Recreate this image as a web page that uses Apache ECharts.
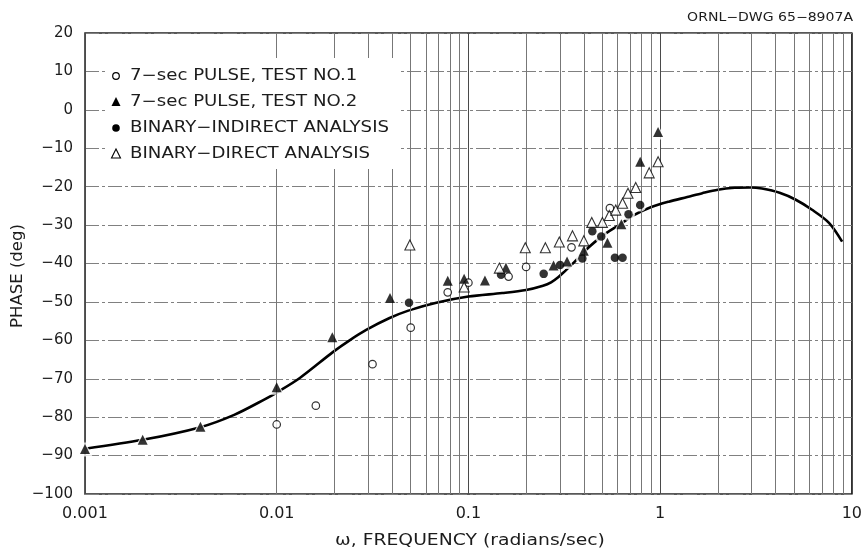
<!DOCTYPE html>
<html>
<head>
<meta charset="utf-8">
<script src="https://cdn.jsdelivr.net/npm/echarts@6/dist/echarts.min.js"></script>
<style>
  html, body { margin: 0; padding: 0; background: #fff; }
  #chart { width: 865px; height: 551px; }
</style>
</head>
<body>
<div id="chart"></div>
<script>
// Phase response: computed curve and four sets of measured points.
const freqTicks = [0.001, 0.01, 0.1, 1, 10];
const freqTickLabels = ['0.001', '0.01', '0.1', '1', '10'];
const phaseMin = -100, phaseMax = 20, phaseStep = 10;

// intermediate log-grid frequencies (2..9 per decade)
const minorGridFreqs = [
  0.002, 0.003, 0.004, 0.005, 0.006, 0.007, 0.008, 0.009,
  0.02, 0.03, 0.04, 0.05, 0.06, 0.07, 0.08, 0.09,
  0.2, 0.3, 0.4, 0.5, 0.6, 0.7, 0.8, 0.9,
  2, 3, 4, 5, 6, 7, 8, 9
];

// computed phase curve
const curveFreq  = [0.001, 0.002, 0.004, 0.006, 0.0087, 0.01, 0.0132, 0.0197, 0.024, 0.0293, 0.0388, 0.049, 0.068, 0.1, 0.15, 0.2, 0.245, 0.27, 0.295, 0.32, 0.364, 0.407, 0.5, 0.61, 0.73, 0.9, 1.11, 1.386, 1.66, 2.0, 2.45, 2.96, 3.4, 4.2, 5.1, 6.2, 7.6, 8.9];
const curvePhase = [-88.2, -85.9, -82.6, -79.4, -75.3, -73.6, -69.8, -63.0, -60.0, -57.3, -54.2, -52.2, -50.2, -48.6, -47.7, -46.9, -45.8, -44.9, -43.5, -41.9, -39.2, -36.6, -32.8, -30.0, -27.4, -25.3, -23.9, -22.7, -21.7, -20.8, -20.3, -20.2, -20.5, -21.6, -23.4, -26.0, -29.4, -34.3];

// 7-sec pulse, test no. 1
const test1Freq  = [0.01, 0.016, 0.0316, 0.05, 0.078, 0.1, 0.162, 0.2, 0.345, 0.547];
const test1Phase = [-81.9, -77.0, -66.2, -56.7, -47.5, -45.0, -43.4, -40.9, -35.8, -25.6];

// 7-sec pulse, test no. 2
const test2Freq  = [0.001, 0.002, 0.004, 0.01, 0.0195, 0.039, 0.078, 0.095, 0.122, 0.157, 0.278, 0.327, 0.40, 0.531, 0.628, 0.787, 0.976];
const test2Phase = [-88.3, -85.9, -82.5, -72.2, -59.2, -49.0, -44.5, -44.0, -44.4, -41.1, -40.5, -39.5, -36.7, -34.6, -29.8, -13.5, -5.8];

// binary-indirect analysis
const indirectFreq  = [0.049, 0.148, 0.247, 0.301, 0.393, 0.443, 0.493, 0.581, 0.637, 0.684, 0.787];
const indirectPhase = [-50.2, -42.9, -42.7, -40.4, -38.7, -31.6, -33.0, -38.5, -38.5, -27.2, -24.8];

// binary-direct analysis
const directFreq  = [0.0495, 0.095, 0.145, 0.198, 0.252, 0.298, 0.349, 0.40, 0.44, 0.50, 0.543, 0.587, 0.637, 0.68, 0.746, 0.877, 0.976];
const directPhase = [-35.2, -46.1, -41.2, -35.9, -35.9, -34.4, -32.8, -34.1, -29.3, -29.3, -27.5, -26.1, -24.3, -21.7, -20.2, -16.4, -13.5];

// legend entries, in drawing order
const legendLabels = [
  '7\u2212sec PULSE, TEST NO.1',
  '7\u2212sec PULSE, TEST NO.2',
  'BINARY\u2212INDIRECT ANALYSIS',
  'BINARY\u2212DIRECT ANALYSIS'
];

const zip = (xs, ys) => xs.map((x, i) => [x, ys[i]]);
const minus = v => (v < 0 ? '\u2212' + Math.abs(v) : String(v));

const FONT = 'DejaVu Sans';
const INK = '#000';
const TEXT = '#1c1c1c';

// lettering is wide and open, so text is stretched horizontally
function label(text, x, y, size, stretch, align, extra) {
  return Object.assign({
    type: 'text', x: x, y: y, scaleX: stretch, z: 20, silent: true,
    style: {
      text: text, font: size + 'px "' + FONT + '"', fill: TEXT,
      textAlign: align || 'left', textVerticalAlign: 'middle'
    }
  }, extra || {});
}

function tri(cx, cy, s, filled) {
  const h = s * 0.9;
  return {
    type: 'polygon', z: 21, silent: true,
    shape: { points: [[cx, cy - h / 2 - 1], [cx - s / 2, cy + h / 2], [cx + s / 2, cy + h / 2]] },
    style: filled ? { fill: INK } : { fill: '#fff', stroke: INK, lineWidth: 1.1 }
  };
}
function dot(cx, cy, r, filled) {
  return {
    type: 'circle', z: 21, silent: true,
    shape: { cx: cx, cy: cy, r: r },
    style: filled ? { fill: INK } : { fill: '#fff', stroke: INK, lineWidth: 1.2 }
  };
}

const legendRows = [76, 102, 128, 154];
const legendX = 116, legendTextX = 130;

const chart = echarts.init(document.getElementById('chart'), null, { renderer: 'canvas' });

chart.setOption({
  backgroundColor: '#fff',
  animation: false,
  textStyle: { fontFamily: FONT, color: TEXT },
  grid: {
    left: 85, right: 12, top: 33, bottom: 57,
    show: true, borderColor: '#222', borderWidth: 1.5, backgroundColor: 'transparent'
  },
  graphic: [
    // legend panel
    { type: 'rect', z: 19, silent: true, shape: { x: 105, y: 58, width: 293, height: 111 }, style: { fill: '#fff' } },
    dot(legendX, legendRows[0], 3.3, false),
    tri(legendX, legendRows[1], 9, true),
    dot(legendX, legendRows[2], 3.8, true),
    tri(legendX, legendRows[3], 9, false),
    label(legendLabels[0], legendTextX, legendRows[0], 15, 1.21),
    label(legendLabels[1], legendTextX, legendRows[1], 15, 1.21),
    label(legendLabels[2], legendTextX, legendRows[2], 15, 1.21),
    label(legendLabels[3], legendTextX, legendRows[3], 15, 1.21),
    // drawing number
    label('ORNL\u2212DWG 65\u22128907A', 853, 18, 12, 1.17, 'right'),
    // axis titles
    label('\u03c9, FREQUENCY (radians/sec)', 470, 541, 15, 1.25, 'center'),
    label('PHASE (deg)', 18, 276, 15, 1.1, 'center', { rotation: Math.PI / 2 })
  ],
  xAxis: {
    type: 'log',
    logBase: 10,
    min: freqTicks[0],
    max: freqTicks[freqTicks.length - 1],
    axisLine: { show: false },
    axisTick: { show: false },
    axisLabel: {
      fontFamily: FONT, fontSize: 16, color: TEXT, margin: 12,
      formatter: v => {
        const i = freqTicks.findIndex(t => Math.abs(Math.log10(t) - Math.log10(v)) < 1e-6);
        return i >= 0 ? freqTickLabels[i] : '';
      }
    },
    splitLine: { show: true, lineStyle: { color: '#4a4a4a', width: 1 } }
  },
  yAxis: {
    type: 'value',
    min: phaseMin, max: phaseMax, interval: phaseStep,
    axisLine: { show: false },
    axisTick: { show: false },
    axisLabel: { fontFamily: FONT, fontSize: 15, color: TEXT, margin: 12, formatter: minus },
    splitLine: { show: true, lineStyle: { color: '#808080', width: 1, type: [14, 3, 3, 3] } }
  },
  series: [
    {
      // intermediate vertical grid lines placed through the log scale
      type: 'line',
      data: [],
      silent: true,
      z: 1,
      markLine: {
        silent: true,
        symbol: 'none',
        label: { show: false },
        lineStyle: { color: '#777', width: 1, type: 'solid' },
        data: minorGridFreqs.map(f => ({ xAxis: f }))
      }
    },
    {
      name: 'curve',
      type: 'line',
      data: zip(curveFreq, curvePhase),
      smooth: 0.3,
      showSymbol: false,
      lineStyle: { color: INK, width: 2.6 },
      z: 3
    },
    {
      // white halos that break the curve around the solid markers
      type: 'scatter',
      data: zip(test2Freq, test2Phase),
      symbol: 'triangle', symbolSize: 15,
      itemStyle: { color: '#fff' },
      silent: true, z: 4
    },
    {
      type: 'scatter',
      data: zip(indirectFreq, indirectPhase),
      symbol: 'circle', symbolSize: 13,
      itemStyle: { color: '#fff' },
      silent: true, z: 4
    },
    {
      name: legendLabels[0],
      type: 'scatter',
      data: zip(test1Freq, test1Phase),
      symbol: 'circle', symbolSize: 7.5,
      itemStyle: { color: '#fff', borderColor: INK, borderWidth: 1.2 },
      z: 5
    },
    {
      name: legendLabels[1],
      type: 'scatter',
      data: zip(test2Freq, test2Phase),
      symbol: 'triangle', symbolSize: 10,
      itemStyle: { color: INK },
      z: 5
    },
    {
      name: legendLabels[2],
      type: 'scatter',
      data: zip(indirectFreq, indirectPhase),
      symbol: 'circle', symbolSize: 8.5,
      itemStyle: { color: INK },
      z: 5
    },
    {
      name: legendLabels[3],
      type: 'scatter',
      data: zip(directFreq, directPhase),
      symbol: 'triangle', symbolSize: 10,
      itemStyle: { color: '#fff', borderColor: INK, borderWidth: 1.1 },
      z: 5
    }
  ]
});
</script>
</body>
</html>
